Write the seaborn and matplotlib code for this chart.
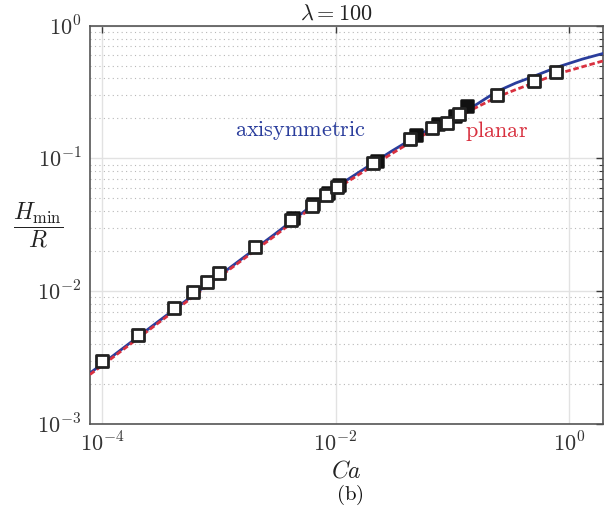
import matplotlib
matplotlib.use("Agg")
import matplotlib.pyplot as plt
import matplotlib.ticker as mticker
import seaborn as sns
import numpy as np

# Simulation curves: minimum film thickness vs capillary number
ca_axi = [7.9e-5, 1e-4, 3e-4, 1e-3, 3e-3, 1e-2, 3e-2, 5e-2, 0.1, 0.15, 0.24, 0.35, 0.49, 0.77, 1.3, 1.99]
h_axi = [2.42e-3, 2.82e-3, 5.87e-3, 1.30e-2, 2.68e-2, 6.05e-2, 0.113, 0.148, 0.205, 0.245, 0.319, 0.37, 0.413, 0.483, 0.56, 0.62]

ca_pla = [7.9e-5, 1e-4, 3e-4, 1e-3, 3e-3, 1e-2, 3e-2, 5e-2, 0.1, 0.15, 0.24, 0.35, 0.49, 0.77, 1.3, 1.99]
h_pla = [2.36e-3, 2.75e-3, 5.72e-3, 1.27e-2, 2.60e-2, 5.85e-2, 0.108, 0.142, 0.193, 0.235, 0.289, 0.33, 0.368, 0.43, 0.49, 0.545]

# Reference data points
ca_open = [1.0e-4, 2.03e-4, 4.14e-4, 6.0e-4, 7.93e-4, 1.0e-3, 2.04e-3, 4.15e-3, 6.29e-3, 8.3e-3,
           1.03e-2, 2.09e-2, 4.34e-2, 6.71e-2, 9.02e-2, 0.114, 0.241, 0.501, 0.774]
h_open = [2.99e-3, 4.69e-3, 7.48e-3, 9.9e-3, 1.17e-2, 1.37e-2, 2.16e-2, 3.44e-2, 4.39e-2, 5.3e-2,
          6.1e-2, 9.24e-2, 0.140, 0.170, 0.186, 0.216, 0.301, 0.383, 0.448]

ca_fill = [4.33e-3, 6.41e-3, 8.62e-3, 1.07e-2, 2.26e-2, 4.89e-2, 7.55e-2, 0.106, 0.134]
h_fill = [3.56e-2, 4.54e-2, 5.5e-2, 6.3e-2, 9.58e-2, 0.150, 0.182, 0.209, 0.248]

blue = "#2a3d9c"
red = "#d8303f"
dark = "#3a3a3a"

sns.set_theme(style="white")
plt.rcParams["mathtext.fontset"] = "cm"
plt.rcParams["font.family"] = ["DejaVu Serif"]

fig = plt.figure(figsize=(6.06, 5.13), dpi=100)
ax = fig.add_axes([0.1485, 0.1735, 0.8465, 0.7765])
ax.set_xscale("log")
ax.set_yscale("log")

sns.lineplot(x=ca_axi, y=h_axi, ax=ax, color=blue, linewidth=2.0, estimator=None, zorder=3)
sns.lineplot(x=ca_pla, y=h_pla, ax=ax, color=red, linewidth=2.0, estimator=None,
             linestyle=(0, (2.0, 1.0)), zorder=3)

sns.scatterplot(x=ca_fill, y=h_fill, ax=ax, marker="s", s=80, color="#111111",
                edgecolor="#111111", linewidth=1.8, zorder=4)
sns.scatterplot(x=ca_open, y=h_open, ax=ax, marker="s", s=80, color="white",
                edgecolor="#222222", linewidth=2.0, zorder=5)

ax.set_xlim(7.9e-5, 1.95)
ax.set_ylim(1e-3, 1)

ax.xaxis.set_major_locator(mticker.FixedLocator([1e-4, 1e-2, 1e0]))
ax.xaxis.set_minor_locator(mticker.NullLocator())
ax.yaxis.set_major_locator(mticker.LogLocator(base=10))
ax.yaxis.set_minor_locator(mticker.LogLocator(base=10, subs=np.arange(2, 10)))
ax.yaxis.set_minor_formatter(mticker.NullFormatter())

def fmt(v, pos):
    e = int(round(np.log10(v)))
    return r"$10^{%d}$" % e

ax.xaxis.set_major_formatter(mticker.FuncFormatter(fmt))
ax.yaxis.set_major_formatter(mticker.FuncFormatter(fmt))

ax.grid(True, which="major", color="#e2e2e2", linewidth=1.0, linestyle="-", zorder=0)
ax.yaxis.grid(True, which="minor", color="#b8b8b8", linewidth=0.8, linestyle=(0, (1, 3)))
ax.set_axisbelow(True)

ax.tick_params(which="both", direction="in", top=True, right=True, colors=dark,
               labelcolor="#333333", labelsize=16, pad=6)
ax.tick_params(which="major", length=5, width=1)
ax.tick_params(which="minor", length=3, width=0.8)
for s in ax.spines.values():
    s.set_color("#555555")
    s.set_linewidth(1.2)

ax.set_xlabel(r"$Ca$", fontsize=17, color="#222222", labelpad=2)
ax.set_ylabel(r"$\dfrac{H_{\mathrm{min}}}{R}$", fontsize=17, color="#222222",
              rotation=0, va="center", ha="center")
ax.yaxis.set_label_coords(-0.1, 0.5)
ax.set_title(r"$\lambda = 100$", fontsize=16, color="#222222", pad=4, x=0.48)

ax.text(0.41, 0.7365, r"$\mathrm{axisymmetric}$", transform=ax.transAxes, color=blue,
        fontsize=16, ha="center", va="center")
ax.text(0.792, 0.7365, r"$\mathrm{planar}$", transform=ax.transAxes, color=red,
        fontsize=16, ha="center", va="center")

fig.text(0.578, 0.035, r"$\mathrm{(b)}$", fontsize=15, color="#111111", ha="center", va="center")

fig.savefig("out.png", dpi=100)
